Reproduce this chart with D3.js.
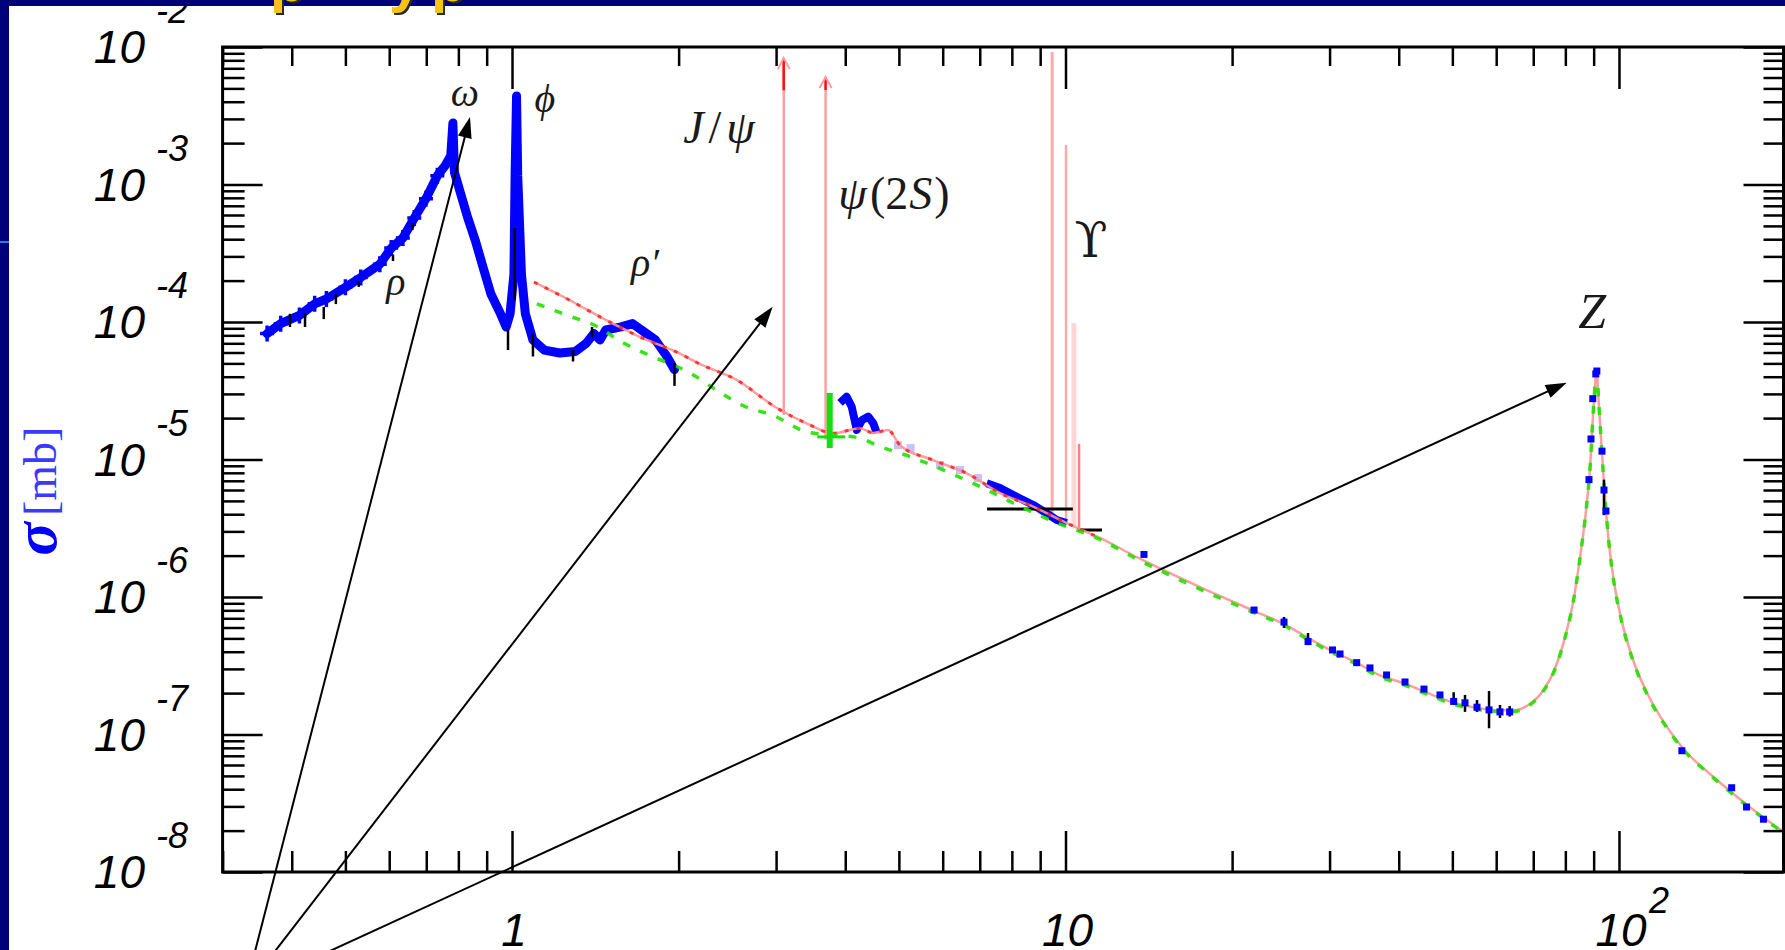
<!DOCTYPE html>
<html><head><meta charset="utf-8">
<script src="https://cdn.jsdelivr.net/npm/d3@7"></script>
<style>html,body{margin:0;padding:0;background:#fff;} svg{display:block;}</style>
</head><body>
<svg id="c" width="1785" height="950"></svg>
<script>
// ---------------- data (mass in GeV, cross-section in mb) ----------------
const lowMass=[0.361,0.382,0.413,0.440,0.462,0.500,0.533,0.577,0.605,0.635,0.666,0.699,0.733,0.757,0.775,0.782,0.787,0.806,0.832,0.859,0.887,0.916,0.953,0.976,0.992,1.008,1.013,1.019,1.024,1.040,1.057,1.091,1.144,1.220,1.300,1.363,1.406,1.442,1.477,1.574,1.651,1.731,1.816,1.905,1.966];
const lowSigma=[8.24e-5,9.73e-5,1.117e-4,1.355e-4,1.47e-4,1.786e-4,2.11e-4,2.63e-4,3.45e-4,4.08e-4,5.71e-4,7.89e-4,1.16e-3,1.37e-3,1.62e-3,2.80e-3,1.23e-3,8.82e-4,5.71e-4,3.88e-4,2.48e-4,1.60e-4,1.15e-4,9.2e-5,1.15e-4,2.23e-4,1.2e-3,4.4e-3,1.16e-3,2.23e-4,1.15e-4,7.40e-5,6.25e-5,5.95e-5,6.10e-5,7.03e-5,8.24e-5,7.40e-5,8.75e-5,9.21e-5,9.73e-5,8.49e-5,7.40e-5,5.61e-5,4.50e-5];

const charmMass=[3.914,4.024,4.109,4.196,4.289,4.403,4.496,4.559];
const charmSigma=[2.58e-5,2.86e-5,2.42e-5,1.64e-5,1.94e-5,2.05e-5,1.83e-5,1.56e-5];

const faintMass=[4.98,5.25,5.934,6.448,6.95];
const faintSigma=[1.27e-5,1.21e-5,9.12e-6,8.39e-6,7.33e-6];

const bandMass=[7.205,7.616,8.163,8.745,9.247,9.641,10.05];
const bandSigma=[6.71e-6,6.21e-6,5.36e-6,4.67e-6,4.06e-6,3.63e-6,3.45e-6];

const hiMass=[13.86,21.91,24.82,27.43,30.37,31.33,33.58,35.49,38.03,41.06,44.43,47.49,50.27,52.70,55.39,58.24,60.95,63.46,88.27,89.0,89.67,90.8,91.2,93.17,93.95,94.73,129.9,159.8,170.0,182.4];
const hiSigma=[2.04e-6,8.04e-7,6.57e-7,4.74e-7,4.12e-7,3.85e-7,3.33e-7,3.05e-7,2.71e-7,2.41e-7,2.14e-7,1.94e-7,1.74e-7,1.70e-7,1.58e-7,1.51e-7,1.46e-7,1.46e-7,7.14e-6,1.41e-5,2.77e-5,4.19e-5,4.4e-5,1.15e-5,6.0e-6,4.22e-6,7.62e-8,4.1e-8,2.97e-8,2.42e-8];

const errMass=[0.397,0.4227,0.457,0.4806,0.5286,0.6095,0.6607,0.9835,1.0104,1.091,1.289,1.395,1.966,24.82,27.43,50.27,52.70,55.39,58.24,60.95,63.46,93.95];
const errLow=[9.2e-5,9.2e-5,1.05e-4,1.35e-4,1.80e-4,2.78e-4,4.67e-4,6.25e-5,1.45e-4,5.61e-5,5.16e-5,7.78e-5,3.43e-5,5.95e-7,4.48e-7,1.65e-7,1.46e-7,1.46e-7,1.11e-7,1.32e-7,1.35e-7,3.94e-6];
const errHigh=[1.148e-4,1.16e-4,1.285e-4,1.60e-4,1.99e-4,3.1e-4,5.25e-4,8.75e-5,4.83e-4,8.24e-5,6.25e-5,9.2e-5,5.04e-5,7.16e-7,5.47e-7,2.03e-7,1.94e-7,1.78e-7,2.07e-7,1.64e-7,1.61e-7,7.14e-6];

const redMass=[1.096,1.259,1.477,1.703,1.998,2.198,2.537,3.011,3.406,3.806,4.25,4.50,4.78,5.023,5.763,6.63,7.616,8.737,10.05,11.54,13.52,17.50,21.73,24.82,27.43,30.13,33.58,36.85,41.06,45.75,50.27,56.09,60.58,64.46,68.60,72.90,76.46,80.12,82.59,85.22,87.17,88.62,90.0,91.1,92.0,93.56,95.76,97.95,101.1,105.9,112.7,121.8,131.6,144.5,158.7,173.9,193.8,200];
const redSigma=[1.95e-4,1.47e-4,1.035e-4,7.78e-5,5.96e-5,4.89e-5,3.82e-5,2.37e-5,1.83e-5,1.55e-5,1.69e-5,1.56e-5,1.64e-5,1.27e-5,9.91e-6,7.94e-6,5.70e-6,4.54e-6,3.45e-6,2.69e-6,1.93e-6,1.18e-6,8.04e-7,6.36e-7,5.04e-7,4.09e-7,3.33e-7,2.71e-7,2.34e-7,1.96e-7,1.70e-7,1.55e-7,1.50e-7,1.50e-7,1.64e-7,2.08e-7,2.96e-7,5.33e-7,9.07e-7,2.07e-6,4.22e-6,8.53e-6,2.47e-5,4.3e-5,2.47e-5,8.53e-6,2.62e-6,1.29e-6,6.76e-7,3.54e-7,1.96e-7,1.15e-7,7.62e-8,5.36e-8,3.88e-8,2.88e-8,2.09e-8,1.92e-8];

const greenMass=[1.109,1.259,1.430,1.574,1.731,2.097,2.381,2.618,2.974,3.406,4.254,4.559,5.303,6.185,7.096,8.036,9.376,11.54,13.52,17.50,21.73,24.82,27.43,30.13,33.58,36.85,41.06,45.75,50.27,56.09,60.58,64.46,68.60,72.90,76.46,80.12,82.59,85.22,87.17,88.62,90.0,91.1,92.0,93.56,95.76,97.95,101.1,105.9,112.7,121.8,131.6,144.5,158.7,173.9,193.8,200];
const greenSigma=[1.355e-4,1.117e-4,9.2e-5,7.19e-5,5.96e-5,4.26e-5,3.06e-5,2.46e-5,2.08e-5,1.59e-5,1.43e-5,1.27e-5,1.03e-5,7.98e-6,6.21e-6,4.83e-6,3.63e-6,2.62e-6,1.87e-6,1.14e-6,7.8e-7,6.2e-7,4.9e-7,3.98e-7,3.24e-7,2.64e-7,2.28e-7,1.91e-7,1.66e-7,1.51e-7,1.47e-7,1.47e-7,1.61e-7,2.05e-7,2.92e-7,5.28e-7,9.0e-7,2.05e-6,4.2e-6,8.5e-6,2.46e-5,4.28e-5,2.46e-5,8.5e-6,2.6e-6,1.27e-6,6.65e-7,3.48e-7,1.92e-7,1.13e-7,7.5e-8,5.28e-8,3.82e-8,2.84e-8,2.06e-8,1.9e-8];

// green psi(2S) point: mass, sigma, sigma low/high, mass low/high
const psiGreenMass=[3.75], psiGreenSigma=[1.46e-5], psiGreenLow=[1.21e-5], psiGreenHigh=[3.05e-5], psiGreenMlo=[3.56], psiGreenMhi=[4.0];

// narrow resonances drawn as spikes
const resName=["J/psi","psi(2S)","Y(1S)","Y(2S)","Y(3S)","Y(4S)"];
const resMass=[3.097,3.686,9.460,10.023,10.355,10.58];
const resBase=[2.11e-5,1.39e-5,3.82e-6,3.45e-6,3.24e-6,3.07e-6];
const resTop=[8.3e-3,6.05e-3,9.2e-3,1.94e-3,9.84e-5,1.30e-5];

// black horizontal marks near the Upsilon
const hsegMassLo=[7.215,10.53], hsegMassHi=[10.31,11.64], hsegSigma=[4.37e-6,3.07e-6];

// axis tick labels
const yTickExp=[-2,-3,-4,-5,-6,-7,-8];
const xTickVal=[1,10,100];
const xTickBase=["1","10","10"];
const xTickExp=["","","2"];

// particle labels (anchor in data coordinates)
const annMass=[0.822,1.147,0.617,1.739,2.366,4.899,11.12,89.4];
const annSigma=[3.73e-3,3.37e-3,1.57e-4,2.16e-4,2.0e-3,6.64e-4,2.97e-4,9.04e-5];

// annotation arrows (common origin below the frame)
const arrowFromMass=0.3294, arrowFromSigma=1.387e-9;
const arrowToMass=[0.8397,2.958,80.45];
const arrowToSigma=[3.10e-3,1.29e-4,3.62e-5];

// ---------------- drawing ----------------
const W=1785,H=950;
const svg=d3.select("#c");
svg.append("rect").attr("width",W).attr("height",H).attr("fill","#ffffff");

const x=d3.scaleLog().domain([0.3,200]).range([222.6,1785.6]);
const y=d3.scaleLog().domain([1e-8,1e-2]).range([872,47]);
const zip=(a,b)=>a.map((v,i)=>[v,b[i]]);
const line=d3.line().x(d=>x(d[0])).y(d=>y(d[1]));
const smooth=d3.line().x(d=>x(d[0])).y(d=>y(d[1])).curve(d3.curveMonotoneX);

const defs=svg.append("defs");
defs.append("clipPath").attr("id","clip").append("rect")
  .attr("x",x(0.3)).attr("y",y(1e-2)).attr("width",W-x(0.3)).attr("height",y(1e-8)-y(1e-2));
const plot=svg.append("g").attr("clip-path","url(#clip)");

// narrow resonances
const resStroke=["#ffa0a0","#ffa0a0","#ffaaaa","#ffa8a8","#ffd6d6","#ff8080"];
const resWidth=[2.5,2.5,3,2.5,5,2.5];
plot.selectAll("line.res").data(resMass).join("line")
  .attr("x1",d=>x(d)).attr("x2",d=>x(d))
  .attr("y1",(d,i)=>y(resBase[i])).attr("y2",(d,i)=>y(resTop[i]))
  .attr("stroke",(d,i)=>resStroke[i]).attr("stroke-width",(d,i)=>resWidth[i]);
const darkLen=[32,13];
[0,1].forEach(i=>{
  plot.append("line").attr("x1",x(resMass[i])).attr("x2",x(resMass[i]))
    .attr("y1",y(resTop[i])).attr("y2",y(resTop[i])+darkLen[i])
    .attr("stroke","#ff1010").attr("stroke-width",2.5);
  plot.append("path")
    .attr("d",`M${x(resMass[i])-6},${y(resTop[i])+11} L${x(resMass[i])},${y(resTop[i])} L${x(resMass[i])+6},${y(resTop[i])+11}`)
    .attr("fill","none").attr("stroke","#ff9c9c").attr("stroke-width",2);
});

// low-mass blue data band
plot.append("path").datum(zip(lowMass,lowSigma)).attr("d",line)
  .attr("fill","none").attr("stroke","#0000ff").attr("stroke-width",9)
  .attr("stroke-linejoin","round").attr("stroke-linecap","round");
plot.selectAll("path.cross").data(zip(lowMass,lowSigma).filter(d=>d[0]<0.74)).join("path")
  .attr("d",d=>{const cx=x(d[0]),cy=y(d[1]);return `M${cx-7},${cy}H${cx+7}M${cx},${cy-8}V${cy+8}`;})
  .attr("stroke","#0000ff").attr("stroke-width",3.5);

// charm region & 10 GeV band
plot.append("path").datum(zip(charmMass,charmSigma)).attr("d",line)
  .attr("fill","none").attr("stroke","#0000ff").attr("stroke-width",8).attr("stroke-linejoin","round");
plot.append("path").datum(zip(bandMass,bandSigma)).attr("d",line)
  .attr("fill","none").attr("stroke","#0000ff").attr("stroke-width",8).attr("stroke-linejoin","round");
plot.selectAll("rect.faint").data(zip(faintMass,faintSigma)).join("rect")
  .attr("x",d=>x(d[0])-4).attr("y",d=>y(d[1])-4).attr("width",8).attr("height",8)
  .attr("fill","#9a8cff").attr("opacity",0.55);

// black horizontal marks
plot.selectAll("line.hseg").data(hsegSigma).join("line")
  .attr("x1",(d,i)=>x(hsegMassLo[i])).attr("x2",(d,i)=>x(hsegMassHi[i]))
  .attr("y1",d=>y(d)).attr("y2",d=>y(d)).attr("stroke","#000").attr("stroke-width",3);

// red theory curve: pale line + red dashes
plot.append("path").datum(zip(redMass,redSigma)).attr("d",smooth)
  .attr("fill","none").attr("stroke","#ff9494").attr("stroke-width",2.5).attr("opacity",0.9);
plot.append("path").datum(zip(redMass,redSigma).filter(d=>d[0]<12)).attr("d",smooth)
  .attr("fill","none").attr("stroke","#ff1a1a").attr("stroke-width",3).attr("stroke-dasharray","4,8").attr("opacity",0.8);

// green dashed curve
plot.append("path").datum(zip(greenMass,greenSigma)).attr("d",smooth)
  .attr("fill","none").attr("stroke","#22e000").attr("stroke-width",3.5).attr("stroke-dasharray","8,11").attr("opacity",0.9);

// green psi(2S) point
plot.selectAll("g.pg").data(psiGreenMass).join("g").each(function(d,i){
  const g=d3.select(this);
  g.append("line").attr("x1",x(d)).attr("x2",x(d)).attr("y1",y(psiGreenLow[i])).attr("y2",y(psiGreenHigh[i]))
    .attr("stroke","#10e010").attr("stroke-width",6);
  g.append("line").attr("x1",x(psiGreenMlo[i])).attr("x2",x(psiGreenMhi[i])).attr("y1",y(psiGreenSigma[i])).attr("y2",y(psiGreenSigma[i]))
    .attr("stroke","#10e010").attr("stroke-width",3);
});

// error bars
plot.selectAll("line.err").data(errMass).join("line")
  .attr("x1",d=>x(d)).attr("x2",d=>x(d))
  .attr("y1",(d,i)=>y(errLow[i])).attr("y2",(d,i)=>y(errHigh[i]))
  .attr("stroke","#000").attr("stroke-width",2.5);

// high mass blue points
plot.selectAll("rect.hi").data(zip(hiMass,hiSigma)).join("rect")
  .attr("x",d=>x(d[0])-3.5).attr("y",d=>y(d[1])-3.5).attr("width",7).attr("height",7)
  .attr("fill","#0000ff");

// ---------------- axes ----------------
const xMinor=[],yMinor=[];
[0.1,1,10].forEach(b=>{for(let k=2;k<=9;k++){const v=k*b;if(v>0.3&&v<200)xMinor.push(v);}});
for(let e=-8;e<=-3;e++){for(let k=2;k<=9;k++)yMinor.push(k*Math.pow(10,e));}
const yMajor=yTickExp.map(e=>Math.pow(10,e));

function styleAxis(g){g.select(".domain").remove();g.selectAll(".tick line").attr("stroke","#000").attr("stroke-width",2.5);g.selectAll("text").remove();}
const xR=W-1.5;
svg.append("g").attr("transform","translate(0,872)").call(d3.axisBottom(x).tickValues(xMinor).tickSize(-21).tickSizeOuter(0)).call(styleAxis);
svg.append("g").attr("transform","translate(0,872)").call(d3.axisBottom(x).tickValues(xTickVal).tickSize(-41).tickSizeOuter(0)).call(styleAxis);
svg.append("g").attr("transform","translate(0,47)").call(d3.axisTop(x).tickValues(xMinor).tickSize(-19).tickSizeOuter(0)).call(styleAxis);
svg.append("g").attr("transform","translate(0,47)").call(d3.axisTop(x).tickValues(xTickVal).tickSize(-42).tickSizeOuter(0)).call(styleAxis);
svg.append("g").attr("transform",`translate(${x(0.3)},0)`).call(d3.axisLeft(y).tickValues(yMinor).tickSize(-22).tickSizeOuter(0)).call(styleAxis);
svg.append("g").attr("transform",`translate(${x(0.3)},0)`).call(d3.axisLeft(y).tickValues(yMajor).tickSize(-40).tickSizeOuter(0)).call(styleAxis);
svg.append("g").attr("transform",`translate(${xR},0)`).call(d3.axisRight(y).tickValues(yMinor).tickSize(-20).tickSizeOuter(0)).call(styleAxis);
svg.append("g").attr("transform",`translate(${xR},0)`).call(d3.axisRight(y).tickValues(yMajor).tickSize(-40).tickSizeOuter(0)).call(styleAxis);

// frame
svg.append("path").attr("d",`M${x(0.3)},${y(1e-2)}H${xR}V${y(1e-8)}H${x(0.3)}Z`)
  .attr("fill","none").attr("stroke","#000").attr("stroke-width",3);

// tick labels
const lab=svg.append("g").attr("font-family","Liberation Sans, Arial, sans-serif").attr("font-style","italic").attr("fill","#000");
yTickExp.forEach(e=>{
  const ty=y(Math.pow(10,e));
  lab.append("text").attr("x",145).attr("y",ty+16).attr("text-anchor","end").attr("font-size",46).text("10");
  lab.append("text").attr("x",156).attr("y",ty-24).attr("font-size",36).text(String(e));
});
xTickVal.forEach((v,i)=>{
  lab.append("text").attr("x",x(v)+2).attr("y",946).attr("text-anchor","middle").attr("font-size",46).text(xTickBase[i]);
  if(xTickExp[i]) lab.append("text").attr("x",x(v)+30).attr("y",913).attr("font-size",36).text(xTickExp[i]);
});

// y axis title
const yt=svg.append("text").attr("transform","translate(56,491) rotate(-90)").attr("text-anchor","middle")
  .attr("font-family","Liberation Serif, serif").attr("fill","#0000ff");
yt.append("tspan").attr("font-size",62).attr("font-weight","bold").attr("font-style","italic").text("σ");
yt.append("tspan").attr("font-size",46).attr("fill","#3a3aff").attr("dx",6).text("[mb]");

// particle labels
const ann=svg.append("g").attr("font-family","Liberation Serif, DejaVu Serif, serif").attr("fill","#1a1a1a").attr("text-anchor","middle");
const annDefs=[
  {t:[["ω","italic",0]],fs:40},
  {t:[["ϕ","italic",0]],fs:40},
  {t:[["ρ","italic",0]],fs:40},
  {t:[["ρ′","italic",0]],fs:40},
  {t:[["J","italic",0],["/","normal",5],["ψ","italic",5]],fs:46},
  {t:[["ψ","italic",0],["(2","normal",3],["S","italic",1],[")","normal",2]],fs:46},
  {t:[["ϒ","normal",0]],fs:48,ff:"DejaVu Serif"},
  {t:[["Z","italic",0]],fs:50}
];
annMass.forEach((m,i)=>{
  const tx=ann.append("text").attr("x",x(m)).attr("y",y(annSigma[i])).attr("font-size",annDefs[i].fs);
  if(annDefs[i].ff) tx.attr("font-family",annDefs[i].ff);
  annDefs[i].t.forEach(p=>tx.append("tspan").attr("font-style",p[1]).attr("dx",p[2]).text(p[0]));
});

// arrows
const ax0=x(arrowFromMass), ay0=y(arrowFromSigma);
const arr=svg.append("g");
arrowToMass.forEach((m,i)=>{
  const tx=x(m), ty=y(arrowToSigma[i]);
  const dx=tx-ax0, dy=ty-ay0, L=Math.hypot(dx,dy), ux=dx/L, uy=dy/L, nx=-uy, ny=ux;
  const hl=21, hw=7;
  const bx=tx-ux*hl, by=ty-uy*hl;
  arr.append("line").attr("x1",ax0).attr("y1",ay0).attr("x2",bx+ux*2).attr("y2",by+uy*2)
    .attr("stroke","#000").attr("stroke-width",2);
  arr.append("path").attr("d",`M${tx},${ty}L${bx+nx*hw},${by+ny*hw}L${bx-nx*hw},${by-ny*hw}Z`).attr("fill","#000");
});

// slide frame (navy border) and title fragments
svg.append("rect").attr("x",0).attr("y",0).attr("width",W).attr("height",6).attr("fill","#00007a");
svg.append("rect").attr("x",0).attr("y",0).attr("width",9).attr("height",H).attr("fill","#00007a");
svg.append("line").attr("x1",0).attr("x2",9).attr("y1",242).attr("y2",242).attr("stroke","#2f78e0").attr("stroke-width",2);
const titleGlyphs=["p","y","p"];
const titleX=[270,389,431];
const tg=svg.append("g").attr("font-family","Liberation Sans, Arial, sans-serif").attr("font-weight","bold").attr("font-size",58);
titleGlyphs.forEach((c,i)=>{
  tg.append("text").attr("x",titleX[i]+2).attr("y",3).attr("fill","#2a2a2a").text(c);
  tg.append("text").attr("x",titleX[i]).attr("y",1).attr("fill","#f7c316").text(c);
});
</script></body></html>
